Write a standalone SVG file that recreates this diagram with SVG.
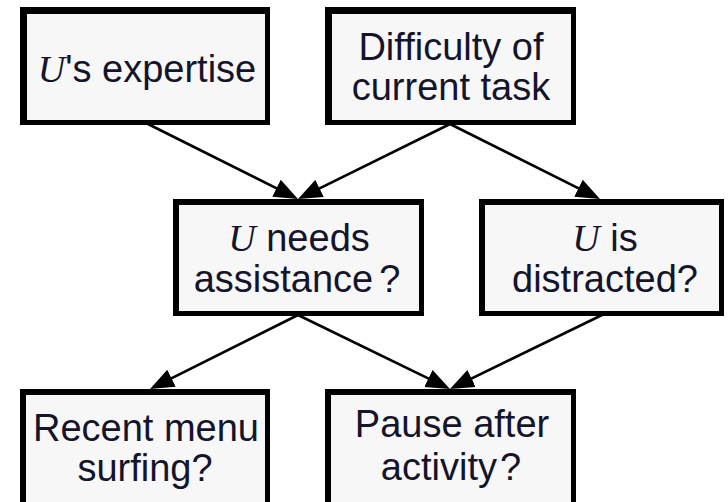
<svg xmlns="http://www.w3.org/2000/svg" width="728" height="502" viewBox="0 0 728 502">
<defs>
<style>
.frame{fill:#000}
.fill{fill:#f7f7f7}
.t{font-family:"Liberation Sans","Arial",sans-serif;font-size:38px;fill:#14142a;text-anchor:middle}
.u{font-family:"Liberation Serif","Times New Roman",serif;font-style:italic}
.edge{stroke:#000;stroke-width:2.6;fill:none;marker-end:url(#arrow)}
</style>
<marker id="arrow" markerUnits="userSpaceOnUse" markerWidth="24" markerHeight="20" viewBox="0 0 24 20" refX="18" refY="10" orient="auto">
<path d="M0,0.5 L24,10 L0,19.5 Z" fill="#000"/>
</marker>
</defs>
<rect width="728" height="502" fill="#fff"/>
<g id="connectors">
<line class="edge" x1="148" y1="124" x2="292.6" y2="196.3"/>
<line class="edge" x1="450" y1="124" x2="303.4" y2="196.4"/>
<line class="edge" x1="450" y1="124" x2="594.6" y2="196.3"/>
<line class="edge" x1="298" y1="315" x2="155.4" y2="386.3"/>
<line class="edge" x1="298" y1="315" x2="444.6" y2="386.4"/>
<line class="edge" x1="602" y1="315" x2="455.4" y2="386.4"/>
</g>
<g id="expertise">
<rect class="frame" x="20" y="7" width="250" height="118"/>
<rect class="fill" x="27" y="14" width="238" height="106"/>
<text class="t" x="147" y="82"><tspan class="u">U</tspan>'s expertise</text>
</g>
<g id="difficulty">
<rect class="frame" x="325" y="7" width="251" height="118"/>
<rect class="fill" x="332" y="14" width="239" height="106"/>
<text class="t" x="451" y="60">Difficulty of</text>
<text class="t" x="451" y="100">current task</text>
</g>
<g id="needs-assistance">
<rect class="frame" x="173" y="199" width="251" height="117"/>
<rect class="fill" x="179" y="205" width="240" height="106"/>
<text class="t" x="299" y="251"><tspan class="u">U</tspan> needs</text>
<text class="t" x="297" y="292">assistance<tspan dx="6">?</tspan></text>
</g>
<g id="distracted">
<rect class="frame" x="479" y="199" width="245" height="117"/>
<rect class="fill" x="485" y="205" width="234" height="106"/>
<text class="t" x="605" y="251"><tspan class="u">U</tspan> is</text>
<text class="t" x="605" y="292">distracted?</text>
</g>
<g id="menu-surfing">
<rect class="frame" x="20" y="389" width="250" height="130"/>
<rect class="fill" x="26" y="395" width="239" height="130"/>
<text class="t" x="146" y="441">Recent menu</text>
<text class="t" x="145" y="481">surfing?</text>
</g>
<g id="pause">
<rect class="frame" x="325" y="389" width="251" height="130"/>
<rect class="fill" x="331" y="395" width="240" height="130"/>
<text class="t" x="452" y="437">Pause after</text>
<text class="t" x="451" y="480">activity<tspan dx="3">?</tspan></text>
</g>
</svg>
